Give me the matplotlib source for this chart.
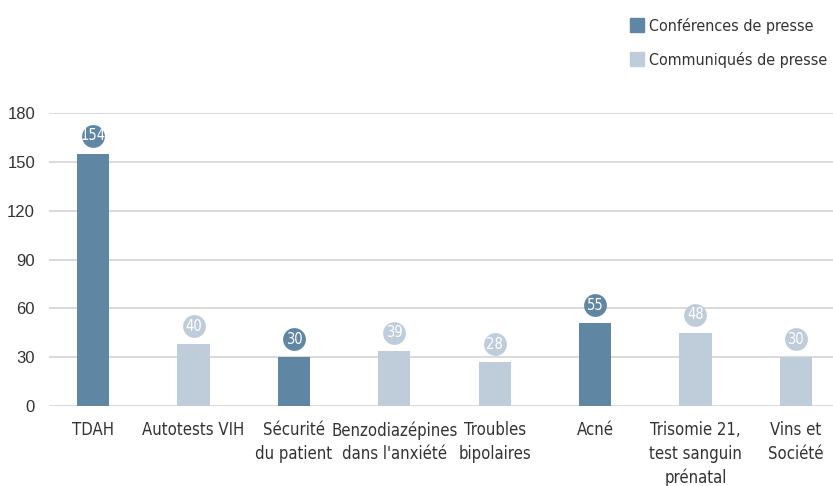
import matplotlib
matplotlib.use("Agg")
from matplotlib import pyplot as plt
from matplotlib.lines import Line2D

# categories and values
categories = ["TDAH", "Autotests VIH", "Sécurité\ndu patient",
              "Benzodiazépines\ndans l'anxiété", "Troubles\nbipolaires", "Acné",
              "Trisomie 21,\ntest sanguin\nprénatal", "Vins et\nSociété"]
bar_heights = [155, 38, 30, 34, 27, 51, 45, 30]
bar_labels = [154, 40, 30, 39, 28, 55, 48, 30]
is_conference = [True, False, True, False, False, True, False, False]
yticks = [0, 30, 60, 90, 120, 150, 180]

dark = "#5f86a2"
light = "#bfcddb"
text_col = "#333333"

plt.rcParams["font.family"] = ["DejaVu Sans"]
plt.rcParams["font.stretch"] = "condensed"

fig = plt.figure(figsize=(8.33, 4.86), dpi=100)
ax = fig.add_axes([49 / 833, 80 / 486, 1 - 49 / 833, 293 / 486])

x = list(range(len(categories)))
colors = [dark if c else light for c in is_conference]
ax.bar(x, bar_heights, width=0.32, color=colors, zorder=2)

# value bubbles
for xi, h, lab, col in zip(x, bar_heights, bar_labels, colors):
    ax.scatter(xi, h + 11, s=270, color=col, zorder=3, clip_on=False,
               linewidths=0)
    ax.text(xi, h + 11, str(lab), color="white", fontsize=10.5,
            ha="center", va="center", zorder=4, fontstretch="condensed")

ax.set_xlim(-0.44, 7.37)
ax.set_ylim(0, 180)
ax.set_yticks(yticks)
ax.yaxis.grid(True, color="#d3d3d3", linewidth=1.2, zorder=0)
ax.set_axisbelow(True)
for s in ax.spines.values():
    s.set_visible(False)
ax.tick_params(axis="both", length=0, colors=text_col)
ax.tick_params(axis="y", labelsize=12, pad=10)
ax.tick_params(axis="x", labelsize=12, pad=11)
for t in ax.get_yticklabels():
    t.set_family(["Liberation Sans", "DejaVu Sans"])
    t.set_fontstretch("normal")
ax.set_xticks(x)
ax.set_xticklabels(categories, linespacing=1.38, fontstretch="condensed")

handles = [Line2D([], [], marker="s", linestyle="", markersize=9.5,
                  color=dark, label="Conférences de presse"),
           Line2D([], [], marker="s", linestyle="", markersize=9.5,
                  color=light, label="Communiqués de presse")]
leg = fig.legend(handles=handles, loc="upper right",
                 bbox_to_anchor=(1.008, 1 - 6 / 486), borderaxespad=0.35,
                 frameon=False, prop={"size": 11.5, "stretch": "condensed"},
                 handletextpad=0.3, labelspacing=1.1, handlelength=1.0)
for t in leg.get_texts():
    t.set_color(text_col)

fig.savefig("out.png", dpi=100)
